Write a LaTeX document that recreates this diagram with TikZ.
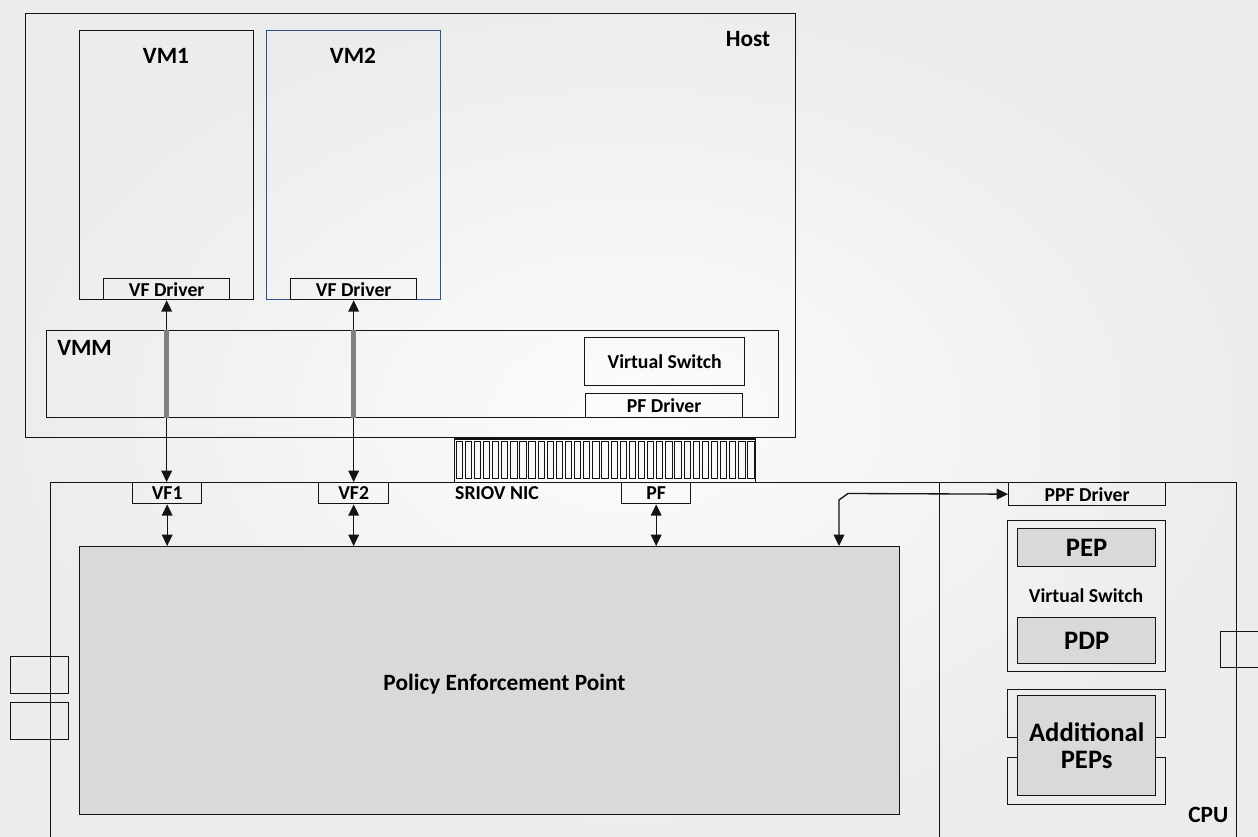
\documentclass[tikz,border=0pt]{standalone}
\usepackage{fontspec}
\setmainfont{Carlito}
\usetikzlibrary{arrows.meta}
\definecolor{bgin}{RGB}{252,252,252}
\definecolor{bgout}{RGB}{236,236,236}
\definecolor{pepgray}{RGB}{217,217,217}
\definecolor{vmblue}{RGB}{47,82,143}
\definecolor{bargray}{RGB}{128,128,128}
\definecolor{lineclr}{RGB}{20,20,20}
% \pxbox{name}{style}{x1}{y1}{x2}{y2}{text}: box from top-left (x1,y1) to bottom-right (x2,y2)
\newcommand{\pxbox}[7]{%
  \node[#2, anchor=north west, minimum width={(#5-#3)*0.75pt},
        minimum height={(#6-#4)*0.75pt}] (#1) at (#3,#4) {#7};}
\begin{document}
\begin{tikzpicture}[x=0.75pt,y=-0.75pt,
  box/.style={draw=lineclr, line width=1pt, inner sep=0pt, align=center},
  gbox/.style={box, fill=pepgray},
  lblS/.style={font=\fontsize{14.8}{16}\selectfont\bfseries},
  lblL/.style={font=\fontsize{17.5}{20}\selectfont\bfseries},
  lblX/.style={font=\fontsize{20}{20.5}\selectfont\bfseries},
  link/.style={draw=lineclr, line width=1pt, {Triangle[length=8.5pt,width=8pt]}-{Triangle[length=8.5pt,width=8pt]}},
  bar/.style={draw=bargray, line width=3.6pt}]
\shade[inner color=bgin, outer color=bgout] (0,0) rectangle (1258,837);
\useasboundingbox (0,0) rectangle (1258,837);
\clip (0,0) rectangle (1258,837);

% ---------------- host ----------------
\pxbox{host}{box}{25}{13}{795}{437}{}
\node[lblL, anchor=base] (hostlbl) at (748,47) {Host};

\pxbox{vm1}{box}{79}{30}{253}{299}{}
\pxbox{vm2}{box, draw=vmblue}{266}{30}{440}{299}{}
\node[lblL, anchor=base] (vm1lbl) at (166,64) {VM1};
\node[lblL, anchor=base] (vm2lbl) at (353,64) {VM2};
\pxbox{vfd1}{box, lblS}{103}{278}{229}{299}{VF Driver}
\pxbox{vfd2}{box, lblS}{290}{278}{416}{299}{VF Driver}

\pxbox{vmm}{box}{46}{330}{778}{417}{}
\node[lblL, anchor=base west, inner sep=0pt] (vmmlbl) at (57,356) {VMM};
\pxbox{hvsw}{box, lblS}{584}{337}{744}{385}{Virtual Switch}
\pxbox{pfd}{box, lblS}{585}{393}{742}{417}{PF Driver}

% ---------------- edge connector ----------------
\pxbox{conn}{box}{454}{439}{755}{482}{}
\draw[lineclr, line width=1.6pt] (conn.north west) -- (conn.north east);
\foreach \i in {0,...,32}
  \draw[lineclr, line width=0.75pt] ({456+\i*9.12},442) rectangle ({462.3+\i*9.12},479);

% ---------------- NIC and CPU ----------------
\pxbox{nic}{box}{50}{482}{939}{870}{}
\pxbox{cpu}{box}{939}{482}{1236}{870}{}
\pxbox{portl1}{box}{10}{656}{68}{693}{}
\pxbox{portl2}{box}{10}{702}{68}{739}{}
\pxbox{portr}{box}{1220}{631}{1280}{667}{}

\node[lblS, anchor=base] (niclbl) at (497,500) {SRIOV NIC};
\pxbox{vf1}{box, lblS}{132}{482}{201}{503}{VF1}
\pxbox{vf2}{box, lblS}{318}{482}{388}{503}{VF2}
\pxbox{pf}{box, lblS}{621}{482}{690}{503}{PF}

\pxbox{pep}{gbox}{79}{546}{899}{814}{}
\node[lblL, anchor=base] (peplbl) at (504.5,690.5) {Policy Enforcement Point};

\node[lblL, anchor=base east] (cpulbl) at (1233,822) {CPU};
\pxbox{ppf}{box, lblS}{1008}{482}{1165}{505}{PPF Driver}
\pxbox{cvsw}{box}{1007}{520}{1165}{671}{}
\pxbox{cpep}{gbox, lblX}{1017}{528}{1155}{566}{PEP}
\pxbox{cpdp}{gbox, lblX}{1017}{617}{1155}{663}{PDP}
\node[lblS, anchor=base] (cvswlbl) at (1086,602.5) {Virtual Switch};
\pxbox{addA}{box}{1007}{689}{1165}{737}{}
\pxbox{addB}{box}{1007}{757}{1165}{804}{}
\pxbox{addF}{gbox, lblX}{1017}{695}{1155}{795}{Additional\\PEPs}

% ---------------- connectors ----------------
\draw[link] (vfd1.south) -- (vf1.north -| vfd1.south);
\draw[link] (vfd2.south) -- (vf2.north -| vfd2.south);
\draw[bar] (vmm.north -| vfd1.south) -- (vmm.south -| vfd1.south);
\draw[bar] (vmm.north -| vfd2.south) -- (vmm.south -| vfd2.south);
\draw[link] (vf1.south) -- (pep.north -| vf1.south);
\draw[link] (vf2.south) -- (pep.north -| vf2.south);
\draw[link] (pf.south) -- (pep.north -| pf.south);
\coordinate (bendA) at (839,500);
\coordinate (bendB) at (848,493.5);
\draw[link] (pep.north -| bendA) -- (bendA) -- (bendB) -- (ppf.west);
\end{tikzpicture}
\end{document}
